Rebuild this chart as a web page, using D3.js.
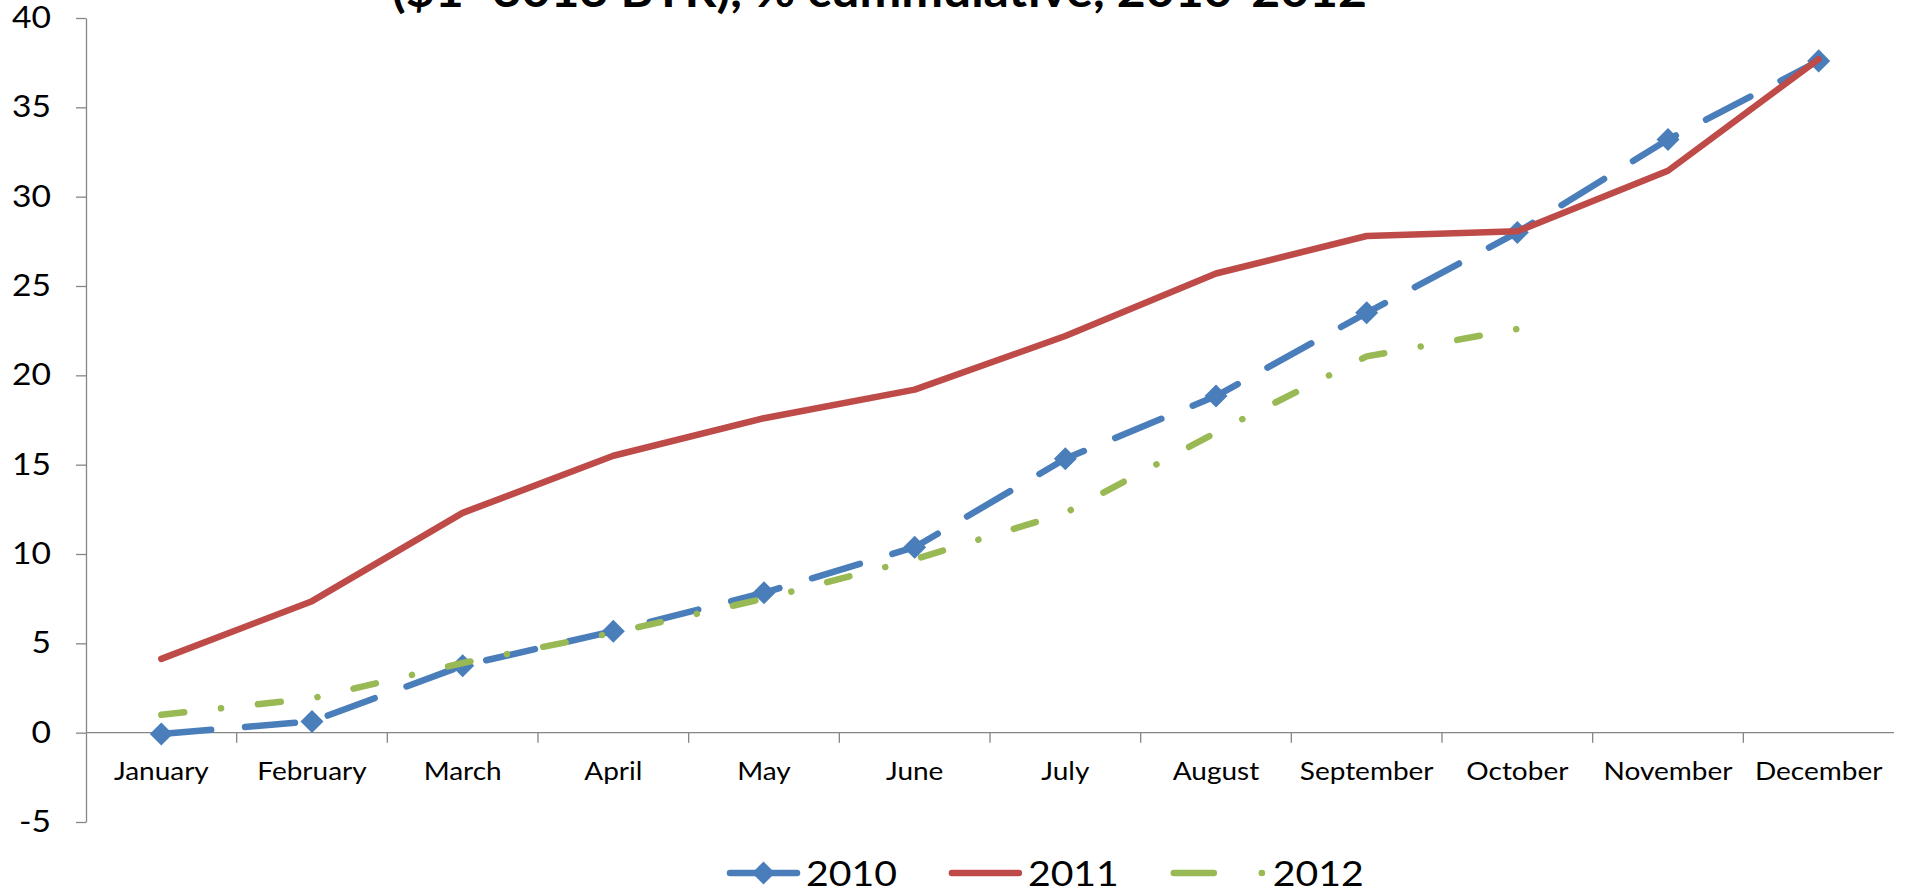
<!DOCTYPE html>
<html>
<head>
<meta charset="utf-8">
<script src="https://cdn.jsdelivr.net/npm/d3@7"></script>
<style>
  body { margin: 0; background: #fff; }
  text { font-family: Lato, "Open Sans", sans-serif; fill: #000; }
</style>
</head>
<body>
<div id="chart"></div>
<script>
var width = 1910,
    height = 893;

// data
var categories = ["January", "February", "March", "April", "May", "June",
    "July", "August", "September", "October", "November", "December"];
var values2010 = [-0.07, 0.63, 3.75, 5.68, 7.83, 10.38, 15.33, 18.84, 23.5, 28.0, 33.2, 37.6];
var values2011 = [4.13, 7.36, 12.3, 15.5, 17.6, 19.2, 22.2, 25.7, 27.8, 28.06, 31.45, 37.7];
var values2012 = [1.0, 1.92, 3.9, 5.59, 7.5, 9.7, 12.3, 16.8, 21.06, 22.6];
var seriesNames = ["2010", "2011", "2012"];
var yTicks = [-5, 0, 5, 10, 15, 20, 25, 30, 35, 40];
var title = "($1=3013 BYR), % cummulative, 2010-2012";

var plotLeft = 86, plotRight = 1894, plotTop = 18, plotBottom = 822;
var SX = 1.12; // text in the original is a bit stretched sideways
var axisColor = "#868686";

var styles = [
    {color: "#4A7EBB", dash: "50,34", legendDash: null, legendLen: 73, marker: true},
    {color: "#BE4B48", dash: null, legendDash: null, legendLen: 73, marker: false},
    {color: "#98B954", dash: "23,37,0.1,37", legendDash: "40,48,0.1,48", legendLen: 96, marker: false}
];
var series = [values2010, values2011, values2012].map(function (v, i) {
    return {name: seriesNames[i], values: v, style: styles[i]};
});

var svg = d3.select("#chart").append("svg")
    .attr("width", width)
    .attr("height", height);

var x = d3.scaleBand().domain(categories).range([plotLeft, plotRight]);
var xTick = d3.scaleLinear().domain([0, categories.length]).range([plotLeft, plotRight]);
var y = d3.scaleLinear().domain([-5, 40]).range([plotBottom, plotTop]);

var cx = function (i) { return x(categories[i]) + x.bandwidth() / 2; };

// title, mostly cut off at the top
svg.append("text")
    .attr("x", 879.5)
    .attr("y", 7)
    .attr("text-anchor", "middle")
    .attr("font-weight", "bold")
    .attr("font-size", 46)
    .attr("textLength", 975)
    .attr("lengthAdjust", "spacingAndGlyphs")
    .text(title);

// y axis
var yAxis = svg.append("g")
    .attr("transform", "translate(" + plotLeft + ",0)")
    .call(d3.axisLeft(y).tickValues(yTicks).tickSize(10).tickSizeOuter(0).tickPadding(25)
        .tickFormat(function (d) { return String(d); }));
yAxis.select(".domain").attr("stroke", axisColor).attr("stroke-width", 1.3);
yAxis.selectAll(".tick line").attr("stroke", axisColor).attr("stroke-width", 1.3);
yAxis.selectAll(".tick text")
    .attr("font-family", "Lato")
    .attr("font-size", 30)
    .attr("x", -35 / SX)
    .attr("transform", "scale(" + SX + ",1)");

// x axis along zero
var xAxis = svg.append("g")
    .attr("transform", "translate(0," + y(0) + ")");
xAxis.append("line")
    .attr("x1", plotLeft).attr("x2", plotRight)
    .attr("stroke", axisColor).attr("stroke-width", 1.3);
xAxis.selectAll(".xtick")
    .data(d3.range(1, categories.length))
    .enter().append("line")
    .attr("class", "xtick")
    .attr("x1", function (d) { return xTick(d); })
    .attr("x2", function (d) { return xTick(d); })
    .attr("y1", 0).attr("y2", 10)
    .attr("stroke", axisColor).attr("stroke-width", 1.3);
xAxis.selectAll(".xlabel")
    .data(categories)
    .enter().append("text")
    .attr("class", "xlabel")
    .attr("text-anchor", "middle")
    .attr("font-size", 25)
    .attr("transform", function (d, i) {
        return "translate(" + cx(i) + ",47) scale(" + SX + ",1)";
    })
    .text(function (d) { return d; });

// series
var line = d3.line()
    .x(function (d, i) { return cx(i); })
    .y(function (d) { return y(d); });

var diamond = d3.symbol().type(d3.symbolSquare).size(265);

series.forEach(function (s) {
    var g = svg.append("g").attr("class", "series");
    g.append("path")
        .datum(s.values)
        .attr("d", line)
        .attr("fill", "none")
        .attr("stroke", s.style.color)
        .attr("stroke-width", 6.5)
        .attr("stroke-linecap", "round")
        .attr("stroke-linejoin", "round")
        .attr("stroke-dasharray", s.style.dash);
    if (s.style.marker) {
        g.selectAll(".marker")
            .data(s.values)
            .enter().append("path")
            .attr("class", "marker")
            .attr("d", diamond)
            .attr("transform", function (d, i) {
                return "translate(" + cx(i) + "," + y(d) + ") rotate(45)";
            })
            .attr("fill", s.style.color);
    }
});

// legend
var legendY = 873;
var legend = svg.append("g").attr("class", "legend");
var lx = 727;
series.forEach(function (s) {
    var len = s.style.legendLen;
    var item = legend.append("g");
    item.append("line")
        .attr("x1", lx + 3).attr("x2", lx + len - 3)
        .attr("y1", legendY).attr("y2", legendY)
        .attr("stroke", s.style.color)
        .attr("stroke-width", 6.5)
        .attr("stroke-linecap", "round")
        .attr("stroke-dasharray", s.style.legendDash);
    if (s.style.marker) {
        item.append("path")
            .attr("d", diamond)
            .attr("transform", "translate(" + (lx + len / 2) + "," + legendY + ") rotate(45)")
            .attr("fill", s.style.color);
    }
    var t = item.append("text")
        .attr("font-size", 35)
        .attr("transform", "translate(" + (lx + len + 6) + "," + (legendY + 13) + ") scale(" + SX + ",1)")
        .text(s.name);
    lx = lx + len + 6 + t.node().getComputedTextLength() * SX + 52;
});
</script>
</body>
</html>
